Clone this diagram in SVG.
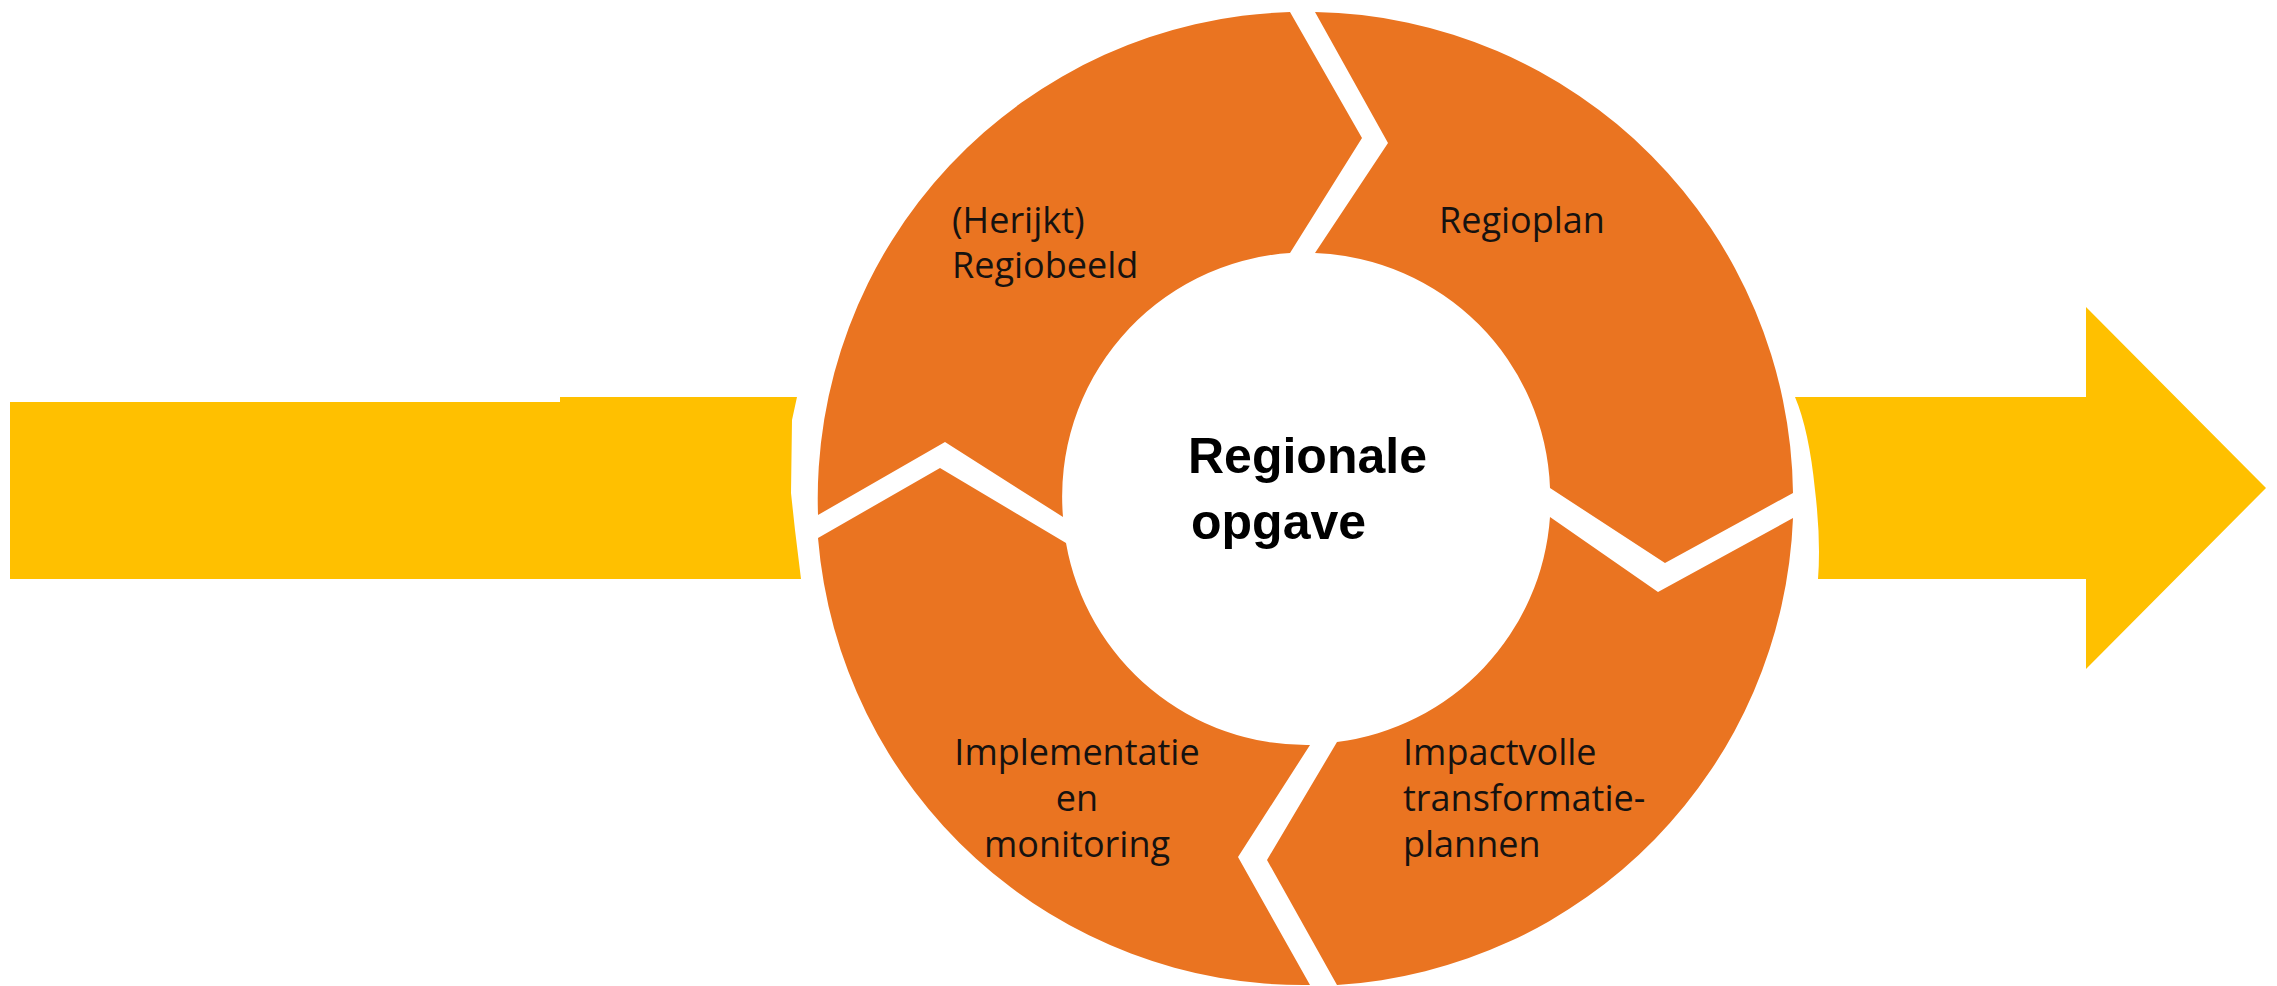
<svg xmlns="http://www.w3.org/2000/svg" width="2277" height="986" viewBox="0 0 2277 986">
  <style>
    .seg { fill: #EA7421; }
    .flow { fill: #FFC000; }
    .lbl { font-family: "Open Sans", "Noto Sans", "DejaVu Sans", sans-serif; font-size: 36px; fill: #161210; }
    .ctr { font-family: "Liberation Sans", Arial, sans-serif; font-size: 50px; font-weight: bold; fill: #000000; }
  </style>
  <rect width="2277" height="986" fill="#FFFFFF"/>

  <g id="connectors">
    <path id="flow-in" class="flow" d="M10,402 L560,402 L560,397 L797,397 L792,420 L791,493 L795,530 L801,579 L10,579 Z"/>
    <path id="flow-out" class="flow" d="M1795,397 L2086,397 L2086,307 L2266,488 L2086,669 L2086,579 L1818,579 Q1821,540 1815,490 Q1809,430 1795,397 Z"/>
  </g>

  <g id="node-regiobeeld">
    <path class="seg" d="M818,515 A487,487 0 0 1 1290,12 L1362,138 L1290,253 A244,244 0 0 0 1063,517 L945,442 Z"/>
    <text class="lbl" x="952" y="233">(Herijkt)</text>
    <text class="lbl" x="952" y="278">Regiobeeld</text>
  </g>

  <g id="node-regioplan">
    <path class="seg" d="M1315,12 A487,487 0 0 1 1793,493 L1665,563 L1550,488 A244,244 0 0 0 1315,253 L1388,143 Z"/>
    <text class="lbl" x="1439" y="233">Regioplan</text>
  </g>

  <g id="node-transformatieplannen">
    <path class="seg" d="M1793,518 A487,487 0 0 1 1337,985 L1267,860 L1337,742 A244,244 0 0 0 1550,517 L1658,592 Z"/>
    <text class="lbl" x="1403" y="765">Impactvolle</text>
    <text class="lbl" x="1403" y="811">transformatie-</text>
    <text class="lbl" x="1403" y="857">plannen</text>
  </g>

  <g id="node-implementatie">
    <path class="seg" d="M1310,985 A487,487 0 0 1 818,538 L940,468 L1066,543 A244,244 0 0 0 1310,745 L1238,857 Z"/>
    <text class="lbl" x="1077" y="765" text-anchor="middle">Implementatie</text>
    <text class="lbl" x="1077" y="811" text-anchor="middle">en</text>
    <text class="lbl" x="1077" y="857" text-anchor="middle">monitoring</text>
  </g>

  <g id="node-regionale-opgave">
    <text class="ctr" x="1188" y="473">Regionale</text>
    <text class="ctr" x="1191" y="539">opgave</text>
  </g>
</svg>
